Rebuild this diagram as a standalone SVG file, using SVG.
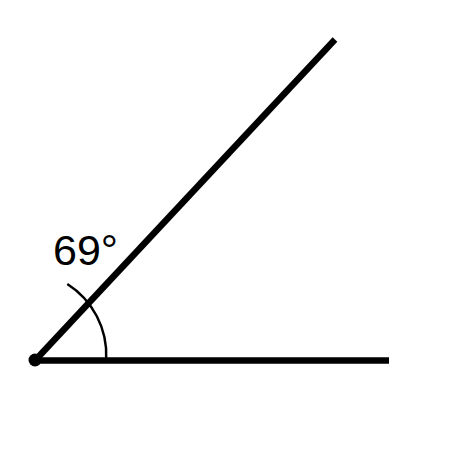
<svg xmlns="http://www.w3.org/2000/svg" width="450" height="450" viewBox="0 0 450 450">
<style>
.ray{stroke:#000;stroke-width:6.5;fill:none;stroke-linecap:butt}
.arc{stroke:#000;stroke-width:2.5;fill:none}
.lbl{font-family:"Liberation Sans",Arial,sans-serif;font-size:43px;fill:#000}
</style>
<rect width="450" height="450" fill="#fff"/>
<g id="connectors">
<line class="ray" x1="35" y1="360.5" x2="389" y2="360.5"/>
<line class="ray" x1="35" y1="360.5" x2="335" y2="39.5"/>
<path class="arc" d="M 106.2 359 A 84.2 84.2 0 0 0 67.3 284"/>
</g>
<g id="vertex">
<circle cx="35" cy="360" r="6.5" fill="#000"/>
</g>
<g id="label">
<text class="lbl" x="53" y="264.5">69°</text>
</g>
</svg>
